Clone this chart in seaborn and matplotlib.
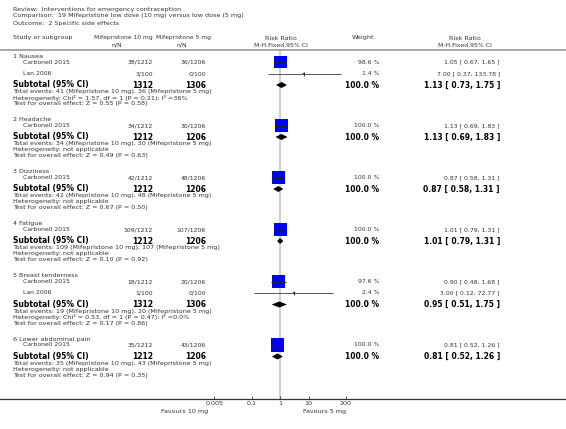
import numpy as np
import pandas as pd
import seaborn as sns
import matplotlib.pyplot as plt
import matplotlib.transforms as mtransforms

# Header text
review = "Review:  Interventions for emergency contraception"
comparison = "Comparison:  19 Mifepristone low dose (10 mg) versus low dose (5 mg)"
outcome = "Outcome:  2 Specific side effects"

# Subgroups
groups = ["1 Nausea", "2 Headache", "3 Dizziness", "4 Fatigue",
          "5 Breast tenderness", "6 Lower abdominal pain"]

# Individual studies
study_group = [0, 0, 1, 2, 3, 4, 4, 5]
study_names = ["Carbonell 2015", "Lan 2006", "Carbonell 2015", "Carbonell 2015",
               "Carbonell 2015", "Carbonell 2015", "Lan 2006", "Carbonell 2015"]
events_10mg = ["38/1212", "3/100", "34/1212", "42/1212", "109/1212", "18/1212", "1/100", "35/1212"]
events_5mg = ["36/1206", "0/100", "30/1206", "48/1206", "107/1206", "20/1206", "0/100", "43/1206"]
weights = [98.6, 1.4, 100.0, 100.0, 100.0, 97.6, 2.4, 100.0]
rr = [1.05, 7.00, 1.13, 0.87, 1.01, 0.90, 3.00, 0.81]
rr_lo = [0.67, 0.37, 0.69, 0.58, 0.79, 0.48, 0.12, 0.52]
rr_hi = [1.65, 133.78, 1.83, 1.31, 1.31, 1.68, 72.77, 1.26]

# Subtotals
sub_n10 = [1312, 1212, 1212, 1212, 1312, 1212]
sub_n5 = [1306, 1206, 1206, 1206, 1306, 1206]
sub_rr = [1.13, 1.13, 0.87, 1.01, 0.95, 0.81]
sub_lo = [0.73, 0.69, 0.58, 0.79, 0.51, 0.52]
sub_hi = [1.75, 1.83, 1.31, 1.31, 1.75, 1.26]
tot_ev10 = [41, 34, 42, 109, 19, 35]
tot_ev5 = [36, 30, 48, 107, 20, 43]
heterogeneity = ["Chi\u00b2 = 1.57, df = 1 (P = 0.21); I\u00b2 =36%", "not applicable",
                 "not applicable", "not applicable",
                 "Chi\u00b2 = 0.53, df = 1 (P = 0.47); I\u00b2 =0.0%", "not applicable"]
overall_z = ["Z = 0.55 (P = 0.58)", "Z = 0.49 (P = 0.63)", "Z = 0.67 (P = 0.50)",
             "Z = 0.10 (P = 0.92)", "Z = 0.17 (P = 0.86)", "Z = 0.94 (P = 0.35)"]

tick_values = [0.005, 0.1, 1, 10, 200]
tick_labels = ["0.005", "0.1", "1", "10", "200"]
favours_left = "Favours 10 mg"
favours_right = "Favours 5 mg"

# Row layout (pixel rows from the top)
W, H = 566, 429
rows = {"study": [], "group": [], "sub": [], "txt": []}
y = 56
for g in range(len(groups)):
    rows["group"].append(y)
    idx = [i for i, sg in enumerate(study_group) if sg == g]
    y += 6
    for k, i in enumerate(idx):
        if k > 0:
            y += 11.5
        rows["study"].append(y)
    y += 11.5
    rows["sub"].append(y)
    rows["txt"].append([y + 7, y + 13, y + 19])
    y += 19 + 15.5

studies = pd.DataFrame({"name": study_names, "rr": rr, "lo": rr_lo, "hi": rr_hi,
                        "w": weights, "y": rows["study"]})

sns.set_theme(style="white")
plt.rcParams["font.family"] = ["DejaVu Sans"]

fig = plt.figure(figsize=(W / 100, H / 100), dpi=100)
ax = fig.add_axes([0, 30 / H, 1, 399 / H])
ax.set_xscale("log")
decade = 28.5
x_one = 280
ax.set_xlim(10 ** (-x_one / decade), 10 ** ((W - x_one) / decade))
ax.set_ylim(399, 0)

# reference line at RR = 1
ax.vlines(1, 50, 399, color="#d0d0d0", lw=1.6, zorder=0)
ax.axhline(50, color="#9a9a9a", lw=1.2)

# study CIs, squares
for _, r in studies.iterrows():
    col = "#222222" if r["w"] > 50 else "#555555"
    ax.hlines(r["y"], r["lo"], r["hi"], color=col, lw=0.7, zorder=3)
sns.scatterplot(data=studies, x="rr", y="y", size="w", sizes=(0, 88), size_norm=(0, 100),
                marker="s", color="#0000ff", edgecolor="none", legend=False, ax=ax, zorder=2)
ax.scatter(studies["rr"], studies["y"], marker="|", s=6, color="#222222", lw=0.6, zorder=4)

# subtotal diamonds
for g in range(len(groups)):
    yy = rows["sub"][g]
    ax.fill([sub_lo[g], sub_rr[g], sub_hi[g], sub_rr[g]], [yy, yy - 3, yy, yy + 3],
            color="black", lw=0, zorder=3)

ax.set_xticks(tick_values)
ax.set_xticklabels(tick_labels)
ax.minorticks_off()
ax.set_yticks([])
for s in ["top", "left", "right"]:
    ax.spines[s].set_visible(False)
ax.spines["bottom"].set_color("#333333")
ax.spines["bottom"].set_linewidth(0.9)
ax.tick_params(axis="x", direction="in", length=2.5, width=0.6, pad=1.5,
               labelsize=4.6, colors="#333333", bottom=True)
ax.set_xlabel("")
ax.set_ylabel("")

# text columns
tr = mtransforms.blended_transform_factory(fig.transFigure, ax.transData)
grey = "#333333"
small = 4.4
head = 4.6
bold = 5.5


def put(px, yy, s, ha="left", size=small, weight="normal", color=grey):
    ax.text(px / W, yy, s, transform=tr, ha=ha, va="center", fontsize=size,
            fontweight=weight, color=color)


put(13, 9, review, size=head)
put(13, 16, comparison, size=head)
put(13, 23, outcome, size=head)

put(13, 38, "Study or subgroup", size=head)
put(94, 38, "Mifepristone 10 mg", size=4.3)
put(155.5, 38, "Mifepristone 5 mg", size=4.3)
put(117, 45, "n/N", ha="center")
put(182, 45, "n/N", ha="center")
put(281, 38, "Risk Ratio", ha="center", size=head)
put(281, 45, "M-H,Fixed,95% CI", ha="center")
put(363, 38, "Weight", ha="center", size=head)
put(465, 38, "Risk Ratio", ha="center", size=head)
put(465, 45, "M-H,Fixed,95% CI", ha="center")

for g, name in enumerate(groups):
    put(13, rows["group"][g], name, size=head)
for i in range(len(study_names)):
    yy = rows["study"][i]
    put(23, yy, study_names[i])
    put(153, yy, events_10mg[i], ha="right")
    put(206, yy, events_5mg[i], ha="right")
    put(379, yy, f"{weights[i]:.1f} %", ha="right")
    put(500, yy, f"{rr[i]:.2f} [ {rr_lo[i]:.2f}, {rr_hi[i]:.2f} ]", ha="right")

for g in range(len(groups)):
    yy = rows["sub"][g]
    put(13, yy, "Subtotal (95% CI)", size=bold, weight="bold", color="black")
    put(153, yy, str(sub_n10[g]), ha="right", size=bold, weight="bold", color="black")
    put(206, yy, str(sub_n5[g]), ha="right", size=bold, weight="bold", color="black")
    put(379, yy, "100.0 %", ha="right", size=bold, weight="bold", color="black")
    put(500, yy, f"{sub_rr[g]:.2f} [ {sub_lo[g]:.2f}, {sub_hi[g]:.2f} ]", ha="right",
        size=bold, weight="bold", color="black")
    t1, t2, t3 = rows["txt"][g]
    put(13, t1, f"Total events: {tot_ev10[g]} (Mifepristone 10 mg), {tot_ev5[g]} (Mifepristone 5 mg)", size=head)
    put(13, t2, f"Heterogeneity: {heterogeneity[g]}", size=head)
    put(13, t3, f"Test for overall effect: {overall_z[g]}", size=head)

fig.text(185 / W, 1 - 411 / H, favours_left, ha="center", va="center", fontsize=4.6, color=grey)
fig.text(325 / W, 1 - 411 / H, favours_right, ha="center", va="center", fontsize=4.6, color=grey)

fig.savefig("out.png", dpi=100)
